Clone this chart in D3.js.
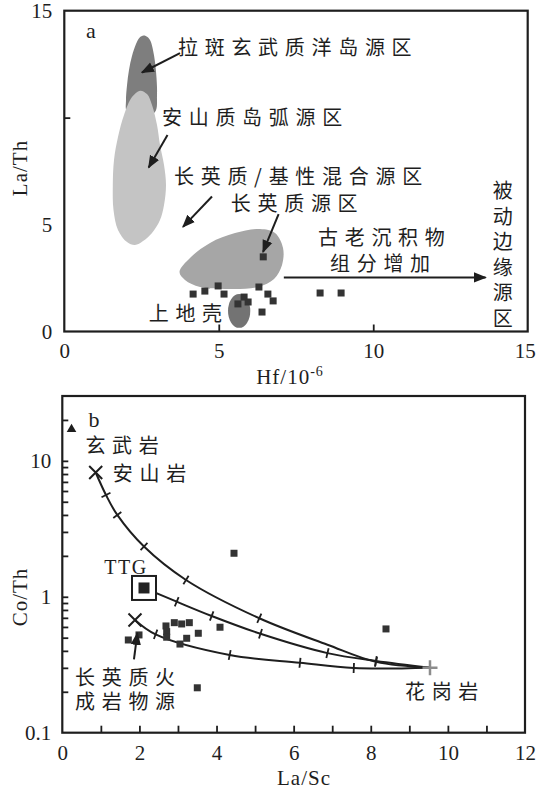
<!DOCTYPE html>
<html><head><meta charset="utf-8">
<script src="https://cdn.jsdelivr.net/npm/d3@7"></script>
<style>body{margin:0;background:#fff}</style>
</head><body><svg id="c" width="536" height="794"></svg>
<script>
// ---------------- Panel a data (Hf vs La/Th) ----------------
const aXTickLabels = [0, 5, 10, 15];
const aYTickLabels = [0, 5, 15];
const aXTickMarks = [5, 10];
const aYTickMarks = [10];
const sampleHf   = [4.17, 4.55, 4.98, 5.17, 5.82, 5.95, 5.62, 6.30, 6.59, 6.76, 6.40, 8.28, 8.96, 6.44];
const sampleLaTh = [1.75, 1.89, 2.13, 1.75, 1.61, 1.38, 1.29, 2.08, 1.75, 1.43, 0.91, 1.80, 1.80, 3.49];
const oibField = [[2.567,13.84],[2.693,13.77],[2.791,13.58],[2.871,13.16],[2.936,12.60],[2.985,11.85],[3.001,11.06],[2.936,10.26],[2.450,9.98],[2.030,10.26],[1.997,10.82],[2.030,11.52],[2.094,12.23],[2.191,12.88],[2.321,13.44],[2.434,13.74]];
const arcField = [[2.451,11.26],[2.677,11.10],[2.839,10.59],[3.001,9.65],[3.098,8.72],[3.228,7.78],[3.292,6.85],[3.228,5.91],[3.098,5.21],[2.839,4.61],[2.548,4.23],[2.288,4.04],[2.030,4.18],[1.738,4.75],[1.593,5.68],[1.570,6.85],[1.609,8.02],[1.738,9.09],[1.933,10.12],[2.191,10.96]];
const felsicField = [[3.729,2.78],[4.069,3.44],[4.717,4.14],[5.526,4.60],[6.335,4.79],[6.821,4.60],[7.080,3.90],[7.048,3.11],[6.789,2.45],[6.271,2.08],[5.203,1.99],[4.393,2.08],[3.907,2.41]];
const upperCrustCenter = [5.66, 0.96];
const upperCrustRadii = [0.36, 0.79];
const aLabels = [
  {t:"拉斑玄武质洋岛源区", x:3.681, y:13.35},
  {t:"安山质岛弧源区", x:3.162, y:10.07},
  {t:"长英质/基性混合源区", x:3.551, y:7.34},
  {t:"长英质源区", x:5.390, y:6.05},
  {t:"古老沉积物", x:8.213, y:4.45},
  {t:"组分增加", x:8.601, y:3.25},
  {t:"上地壳", x:2.732, y:0.93}
];
const aArrows = [
  [[3.746,13.02],[2.515,12.11]],
  [[3.341,9.19],[2.732,7.67]],
  [[4.781,6.31],[3.843,4.89]],
  [[6.937,5.49],[6.433,3.72]],
  [[7.106,2.53],[13.636,2.53]]
];
const passiveText = "被动边缘源区";
const passivePos = [14.19, 6.66, 1.192];

// ---------------- Panel b data (La/Sc vs Co/Th) ----------------
const bXTickLabels = [0, 2, 4, 6, 8, 10, 12];
const bXTickMarks = [1,2,3,4,5,6,7,8,9,10,11];
const bYTickLabels = [0.1, 1, 10];
const bYTickMarks = [0.2,0.3,0.4,0.5,0.6,0.7,0.8,0.9,1,2,3,4,5,6,7,8,9,10,20];
const sampleLaSc = [1.712, 1.989, 2.689, 2.905, 3.096, 3.294, 2.707, 2.707, 3.052, 3.226, 3.527, 4.090, 4.453, 3.501, 8.395];
const sampleCoTh = [0.481, 0.524, 0.610, 0.645, 0.631, 0.645, 0.554, 0.504, 0.449, 0.495, 0.539, 0.597, 2.09, 0.214, 0.580];
const basalt = [0.239, 17.08];
const andesite = [0.866, 8.21];
const ttg = [2.119, 1.161];
const felsicVolc = [1.885, 0.675];
const granite = [9.536, 0.301];
// mixing curves: [La/Sc, Co/Th, tick(1)/no tick(0)]
const mixAndesite = [[0.866,8.21,0],[1.133,5.61,1],[1.426,4.00,1],[2.119,2.34,1],[3.208,1.329,1],[5.109,0.695,1],[6.877,0.444,0],[8.135,0.332,1],[9.536,0.301,0]];
const mixTTG = [[2.119,1.161,0],[2.967,0.920,1],[3.874,0.722,1],[5.140,0.534,1],[6.877,0.385,1],[8.135,0.337,1],[9.536,0.301,0]];
const mixFelsic = [[1.885,0.675,0],[2.420,0.529,1],[4.341,0.373,1],[6.164,0.327,1],[7.560,0.299,1],[9.536,0.301,0]];
const bLabels = [
  {t:["玄武岩"], x:0.60, y:13.3},
  {t:["安山岩"], x:1.31, y:8.22},
  {t:["长英质火","成岩物源"], x:0.33, y:0.2614},
  {t:["花岗岩"], x:8.887, y:0.206}
];
const bArrow = [[1.859,0.347],[1.945,0.539]];

// ---------------- drawing ----------------
const CJK = '"Noto Sans CJK SC","Noto Sans CJK JP",sans-serif';
const SERIF = '"Liberation Serif","DejaVu Serif",serif';
const INK = '#1e1e1e';
const svg = d3.select('#c');
svg.append('rect').attr('width',536).attr('height',794).attr('fill','#fff');
const defs = svg.append('defs');
defs.append('marker').attr('id','ah').attr('viewBox','0 0 10 10')
  .attr('refX',9).attr('refY',5).attr('markerWidth',13).attr('markerHeight',13)
  .attr('markerUnits','userSpaceOnUse').attr('orient','auto')
  .append('path').attr('d','M0,1 L10,5 L0,9 Z').attr('fill',INK);

function cjk(g, lines, x, y, lineH){
  const t = g.append('text').attr('x',x).attr('y',y)
    .attr('font-family',CJK).attr('font-size',20).attr('letter-spacing',6.7)
    .attr('dominant-baseline','central').attr('fill',INK);
  [].concat(lines).forEach((s,i)=>t.append('tspan').attr('x',x).attr('dy',i?lineH:0).text(s));
  return t;
}
function styleAxis(g, size){
  g.select('.domain').remove();
  g.selectAll('text').attr('font-family',SERIF).attr('font-size',size||21).attr('fill',INK);
  g.selectAll('line').attr('stroke',INK).attr('stroke-width',1.8);
  return g;
}

// ===== Panel a =====
const xa = d3.scaleLinear().domain([0,15]).range([64.3,527.7]);
const ya = d3.scaleLinear().domain([0,15]).range([331.5,10.7]);
const ga = svg.append('g');
const closed = d3.line().x(d=>xa(d[0])).y(d=>ya(d[1])).curve(d3.curveCatmullRomClosed.alpha(0.5));
ga.append('path').attr('d',closed(oibField)).attr('fill','#7e7e7e');
ga.append('path').attr('d',closed(arcField)).attr('fill','#c4c4c4');
ga.append('path').attr('d',closed(felsicField)).attr('fill','#a6a6a6');
ga.append('ellipse').attr('cx',xa(upperCrustCenter[0])).attr('cy',ya(upperCrustCenter[1]))
  .attr('rx',xa(upperCrustRadii[0])-xa(0)).attr('ry',ya(0)-ya(upperCrustRadii[1])).attr('fill','#737373');
ga.selectAll('rect.s').data(sampleHf.map((h,i)=>[h,sampleLaTh[i]])).join('rect').attr('class','s')
  .attr('x',d=>xa(d[0])-3.5).attr('y',d=>ya(d[1])-3.5).attr('width',7).attr('height',7).attr('fill','#333');
aArrows.forEach(a=>{
  ga.append('line').attr('x1',xa(a[0][0])).attr('y1',ya(a[0][1])).attr('x2',xa(a[1][0])).attr('y2',ya(a[1][1]))
    .attr('stroke',INK).attr('stroke-width',2).attr('marker-end','url(#ah)');
});
aLabels.forEach(l=>cjk(ga,l.t,xa(l.x),ya(l.y)));
{
  const vt = ga.append('text').attr('text-anchor','middle').attr('font-family',CJK).attr('font-size',20)
    .attr('dominant-baseline','central').attr('fill',INK);
  const step = ya(0) - ya(passivePos[2]);
  passiveText.split('').forEach((c,i)=>{
    vt.append('tspan').attr('x',xa(passivePos[0]))
      .attr('y', i===0 ? ya(passivePos[1]) : null).attr('dy', i===0 ? null : step).text(c);
  });
}
ga.append('text').attr('x',xa(0.86)).attr('y',ya(13.72)).text('a').attr('text-anchor','middle')
  .attr('font-family',SERIF).attr('font-size',22).attr('fill',INK);
// axes a
const axA = styleAxis(ga.append('g').attr('transform',`translate(0,${ya(0)})`)
  .call(d3.axisBottom(xa).tickValues(aXTickLabels).tickSize(0).tickPadding(12)));
axA.selectAll('text').filter(d=>d===15).attr('dx',-3);
styleAxis(ga.append('g').attr('transform',`translate(0,${ya(0)})`)
  .call(d3.axisBottom(xa).tickValues(aXTickMarks).tickSize(-7).tickFormat('')));
styleAxis(ga.append('g').attr('transform',`translate(${xa(0)},0)`)
  .call(d3.axisLeft(ya).tickValues(aYTickLabels).tickSize(0).tickPadding(12)));
styleAxis(ga.append('g').attr('transform',`translate(${xa(0)},0)`)
  .call(d3.axisLeft(ya).tickValues(aYTickMarks).tickSize(-6).tickFormat('')));
ga.append('rect').attr('x',xa(0)).attr('y',ya(15)).attr('width',xa(15)-xa(0)).attr('height',ya(0)-ya(15))
  .attr('fill','none').attr('stroke',INK).attr('stroke-width',2.2);
ga.append('text').attr('transform','translate(20,168) rotate(-90)').attr('text-anchor','middle')
  .attr('dominant-baseline','central').attr('font-family',SERIF).attr('font-size',21).attr('letter-spacing',1).attr('fill',INK).text('La/Th');
const hf = ga.append('text').attr('x',290).attr('y',384).attr('text-anchor','middle')
  .attr('font-family',SERIF).attr('font-size',21).attr('letter-spacing',1).attr('fill',INK);
hf.append('tspan').text('Hf/10');
hf.append('tspan').text('-6').attr('font-size',14).attr('dy',-8);

// ===== Panel b =====
const xb = d3.scaleLinear().domain([0,12]).range([62.3,525]);
const yb = d3.scaleLog().domain([0.1,30]).range([732.7,396]);
const gb = svg.append('g');
const open = d3.line().x(d=>xb(d[0])).y(d=>yb(d[1])).curve(d3.curveCatmullRom.alpha(0.5));
[mixAndesite, mixTTG, mixFelsic].forEach(curve=>{
  gb.append('path').attr('d',open(curve)).attr('fill','none').attr('stroke',INK).attr('stroke-width',2);
  const P = curve.map(d=>[xb(d[0]),yb(d[1])]);
  curve.forEach((d,i)=>{
    if(!d[2]) return;
    const a=P[Math.max(0,i-1)], b=P[Math.min(P.length-1,i+1)];
    const dx=b[0]-a[0], dy=b[1]-a[1], L=Math.hypot(dx,dy);
    const nx=-dy/L*5, ny=dx/L*5;
    gb.append('line').attr('x1',P[i][0]-nx).attr('y1',P[i][1]-ny).attr('x2',P[i][0]+nx).attr('y2',P[i][1]+ny)
      .attr('stroke',INK).attr('stroke-width',1.8);
  });
});
gb.selectAll('rect.s').data(sampleLaSc.map((v,i)=>[v,sampleCoTh[i]])).join('rect').attr('class','s')
  .attr('x',d=>xb(d[0])-3.5).attr('y',d=>yb(d[1])-3.5).attr('width',7).attr('height',7).attr('fill','#333');
// end members
gb.append('path').attr('d',d3.symbol(d3.symbolTriangle,40)()).attr('transform',`translate(${xb(basalt[0])},${yb(basalt[1])})`).attr('fill',INK);
[andesite, felsicVolc].forEach(p=>{
  const cx=xb(p[0]), cy=yb(p[1]), r=6.5;
  gb.append('path').attr('d',`M${cx-r},${cy-r}L${cx+r},${cy+r}M${cx-r},${cy+r}L${cx+r},${cy-r}`)
    .attr('stroke',INK).attr('stroke-width',2).attr('fill','none');
});
gb.append('rect').attr('x',xb(ttg[0])-12).attr('y',yb(ttg[1])-12).attr('width',24).attr('height',24)
  .attr('fill','#fff').attr('stroke',INK).attr('stroke-width',2);
gb.append('rect').attr('x',xb(ttg[0])-5.5).attr('y',yb(ttg[1])-5.5).attr('width',11).attr('height',11).attr('fill','#222');
{
  const cx=xb(granite[0]), cy=yb(granite[1]), r=7.5;
  gb.append('path').attr('d',`M${cx-r},${cy}L${cx+r},${cy}M${cx},${cy-r}L${cx},${cy+r}`)
    .attr('stroke','#8c8c8c').attr('stroke-width',2.5);
}
gb.append('line').attr('x1',xb(bArrow[0][0])).attr('y1',yb(bArrow[0][1])).attr('x2',xb(bArrow[1][0])).attr('y2',yb(bArrow[1][1]))
  .attr('stroke',INK).attr('stroke-width',2).attr('marker-end','url(#ah)');
bLabels.forEach(l=>cjk(gb,l.t,xb(l.x),yb(l.y),24));
gb.append('text').attr('x',xb(1.652)).attr('y',yb(1.657)).text('TTG').attr('text-anchor','middle')
  .attr('dominant-baseline','central').attr('font-family',SERIF).attr('font-size',20).attr('letter-spacing',1.5).attr('fill',INK);
gb.append('text').attr('x',xb(0.82)).attr('y',yb(17.85)).text('b').attr('text-anchor','middle')
  .attr('font-family',SERIF).attr('font-size',22).attr('fill',INK);
// axes b
styleAxis(gb.append('g').attr('transform',`translate(0,${yb(0.1)})`)
  .call(d3.axisBottom(xb).tickValues(bXTickLabels).tickSize(0).tickPadding(12)));
styleAxis(gb.append('g').attr('transform',`translate(0,${yb(0.1)})`)
  .call(d3.axisBottom(xb).tickValues(bXTickMarks).tickSize(-7).tickFormat('')));
styleAxis(gb.append('g').attr('transform',`translate(${xb(0)},0)`)
  .call(d3.axisLeft(yb).tickValues(bYTickLabels).tickFormat(d3.format('~g')).tickSize(0).tickPadding(11)));
styleAxis(gb.append('g').attr('transform',`translate(${xb(0)},0)`)
  .call(d3.axisLeft(yb).tickValues(bYTickMarks).tickSize(-6).tickFormat('')));
gb.append('rect').attr('x',xb(0)).attr('y',yb(30)).attr('width',xb(12)-xb(0)).attr('height',yb(0.1)-yb(30))
  .attr('fill','none').attr('stroke',INK).attr('stroke-width',2.2);
gb.append('text').attr('transform','translate(20,597) rotate(-90)').attr('text-anchor','middle')
  .attr('dominant-baseline','central').attr('font-family',SERIF).attr('font-size',21).attr('letter-spacing',1).attr('fill',INK).text('Co/Th');
gb.append('text').attr('x',304).attr('y',785).attr('text-anchor','middle')
  .attr('font-family',SERIF).attr('font-size',21).attr('letter-spacing',1).attr('fill',INK).text('La/Sc');
</script></body></html>
